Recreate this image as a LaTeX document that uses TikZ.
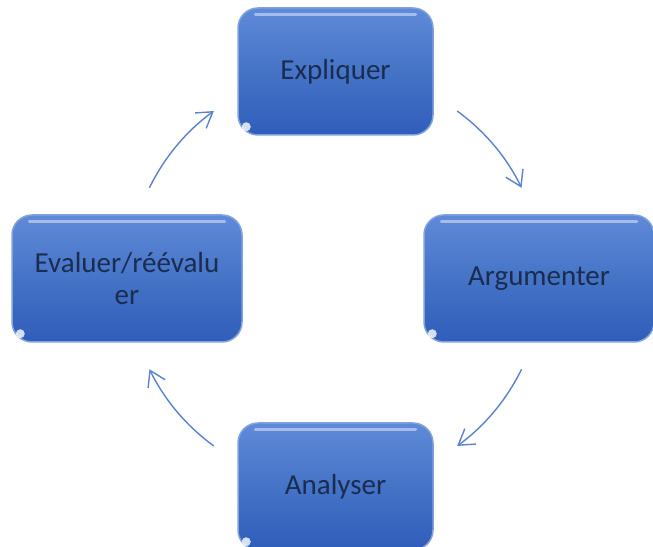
\documentclass[tikz,border=0pt]{standalone}
\usepackage{fontspec}
\setmainfont{Carlito}
\usetikzlibrary{arrows.meta}
\definecolor{boxtop}{HTML}{5F8AD8}
\definecolor{boxmid}{HTML}{4573C6}
\definecolor{boxbot}{HTML}{2F5DBA}
\definecolor{boxrim}{HTML}{82A2DE}
\definecolor{txt}{HTML}{1A2C50}
\definecolor{arrowc}{HTML}{5A82CF}
\tikzset{
  stepbox/.style={rounded corners=20pt, top color=boxtop, bottom color=boxbot, middle color=boxmid,
    draw=boxrim, line width=1.5pt, minimum height=127pt, align=center,
    text=txt, font=\fontsize{29}{32}\selectfont, inner sep=0pt},
  cyclearrow/.style={draw=arrowc, line width=1.4pt, -{Straight Barb[length=15pt,width=19pt,line width=1.4pt]}},
  gloss/.style={white, opacity=0.45, line width=3pt, line cap=round},
  spot/.style={fill=white, opacity=0.8}
}
\begin{document}
\begin{tikzpicture}[x=1pt,y=1pt]
\clip (0,0) rectangle (653,546);
\fill[white] (0,0) rectangle (653,546);
\coordinate (C) at (335.5,267.5);
\node[stepbox, minimum width=195pt] (expl) at (335.5,474.5) {Expliquer};
\node[stepbox, minimum width=230pt] (argu) at (539,267.5) {Argumenter};
\node[stepbox, minimum width=195pt] (anal) at (335.5,59.5) {Analyser};
\node[stepbox, minimum width=230pt] (eval) at (127,267.5) {Evaluer/réévalu\\er};
\foreach \n in {expl,argu,anal,eval}{
  \draw[gloss] ([xshift=18pt,yshift=-7pt]\n.north west) -- ([xshift=-18pt,yshift=-7pt]\n.north east);
  \fill[spot] ([xshift=9pt,yshift=9pt]\n.south west) circle (4.5pt);
}
\path (C) ++(154:207) coordinate (a1s);
\path (C) ++(54:207) coordinate (a2s);
\path (C) ++(-26:207) coordinate (a3s);
\path (C) ++(-126:207) coordinate (a4s);
\draw[cyclearrow] (a1s) arc[start angle=154, end angle=126, radius=207];
\draw[cyclearrow] (a2s) arc[start angle=54, end angle=26, radius=207];
\draw[cyclearrow] (a3s) arc[start angle=-26, end angle=-54, radius=207];
\draw[cyclearrow] (a4s) arc[start angle=-126, end angle=-154, radius=207];
\end{tikzpicture}
\end{document}
